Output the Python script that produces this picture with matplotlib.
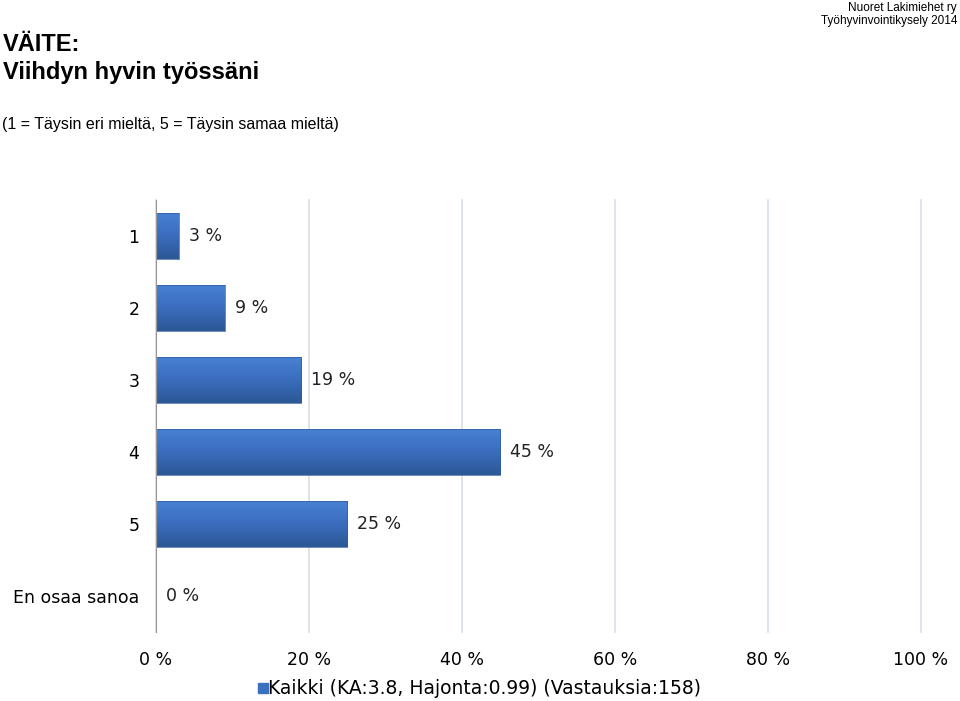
"""Survey chart: VÄITE - Viihdyn hyvin työssäni."""

import matplotlib
matplotlib.use("Agg")
import matplotlib.pyplot as plt
import numpy as np
from matplotlib.colors import LinearSegmentedColormap
from matplotlib.patches import Rectangle

plt.rcParams["font.family"] = ["Liberation Sans", "DejaVu Sans"]

# data
categories = ["1", "2", "3", "4", "5", "En osaa sanoa"]
shares = [3, 9, 19, 45, 25, 0]
x_ticks = [0, 20, 40, 60, 80, 100]
legend_label = "Kaikki (KA:3.8, Hajonta:0.99) (Vastauksia:158)"

BAR_COLOR = "#3b6fbf"
GRID_COLOR = "#d6dee8"
WIDE_FONT = ["DejaVu Sans"]
DPI = 100


def shade_bars(ax, bars):
    """Fill every bar with a light (top) to dark (bottom) gradient."""
    cmap = LinearSegmentedColormap.from_list("bar", ["#4a82d2", "#3a6dbd", "#2c5896"])
    grad = np.linspace(0, 1, 64).reshape(-1, 1)
    for bar in bars:
        if bar.get_width() <= 0:
            continue
        x0, y0 = bar.get_x(), bar.get_y()
        x1, y1 = x0 + bar.get_width(), y0 + bar.get_height()
        # y axis is inverted, so y0 is the top edge on screen
        img = ax.imshow(grad, cmap=cmap, aspect="auto", zorder=3,
                        extent=(x0, x1, y0, y1), origin="lower")
        img.set_clip_path(bar)
        bar.set_facecolor("none")


def draw_graph():
    fig = plt.figure(figsize=(9.6, 7.01), dpi=DPI)
    ax = fig.add_axes([0.1625, 0.0984, 0.7965, 0.6163])

    pos = list(range(len(categories)))
    bars = ax.barh(pos, shares, height=0.64, color=BAR_COLOR,
                   edgecolor="#2f5c9c", linewidth=0.5, zorder=4)
    shade_bars(ax, bars)

    for y, v in zip(pos, shares):
        ax.text(v + 1.3, y, "{} %".format(v), va="center", ha="left",
                fontsize=12.5, color="#222222", family=WIDE_FONT)

    ax.set_xlim(0, 100)
    ax.set_ylim(len(categories) - 0.5, -0.5)
    ax.set_yticks(pos)
    ax.set_yticklabels(categories, fontsize=12.5, family=WIDE_FONT)
    ax.set_xticks(x_ticks)
    ax.set_xticklabels(["{} %".format(t) for t in x_ticks], fontsize=12.5,
                       family=WIDE_FONT)
    ax.tick_params(length=0, pad=12)
    ax.tick_params(axis="x", pad=14)

    ax.grid(axis="x", color=GRID_COLOR, linewidth=1.2, zorder=0)
    # keep the 100 % line visible at the right edge
    for line in ax.get_xgridlines():
        line.set_clip_on(False)
    for side in ["top", "right", "bottom"]:
        ax.spines[side].set_visible(False)
    ax.spines["left"].set_color("#999999")
    ax.spines["left"].set_zorder(5)

    fig.text(0.003, 0.937, "VÄITE:", fontsize=17, fontweight="bold",
             va="center")
    fig.text(0.003, 0.897, "Viihdyn hyvin työssäni", fontsize=17,
             fontweight="bold", va="center")
    fig.text(0.002, 0.823, "(1 = Täysin eri mieltä, 5 = Täysin samaa mieltä)",
             fontsize=11.5, va="center")
    fig.text(0.997, 0.997, "Nuoret Lakimiehet ry", fontsize=8.5,
             ha="right", va="top")
    fig.text(0.997, 0.978, "Työhyvinvointikysely 2014", fontsize=8.5,
             ha="right", va="top")

    fig.patches.append(Rectangle((0.2688, 0.0114), 0.0105, 0.0143,
                                 transform=fig.transFigure, color=BAR_COLOR))
    fig.text(0.2795, 0.0185, legend_label, fontsize=13.5, va="center",
             family=WIDE_FONT)

    fig.savefig("out.png", dpi=DPI)
    plt.close(fig)


if __name__ == "__main__":
    draw_graph()
